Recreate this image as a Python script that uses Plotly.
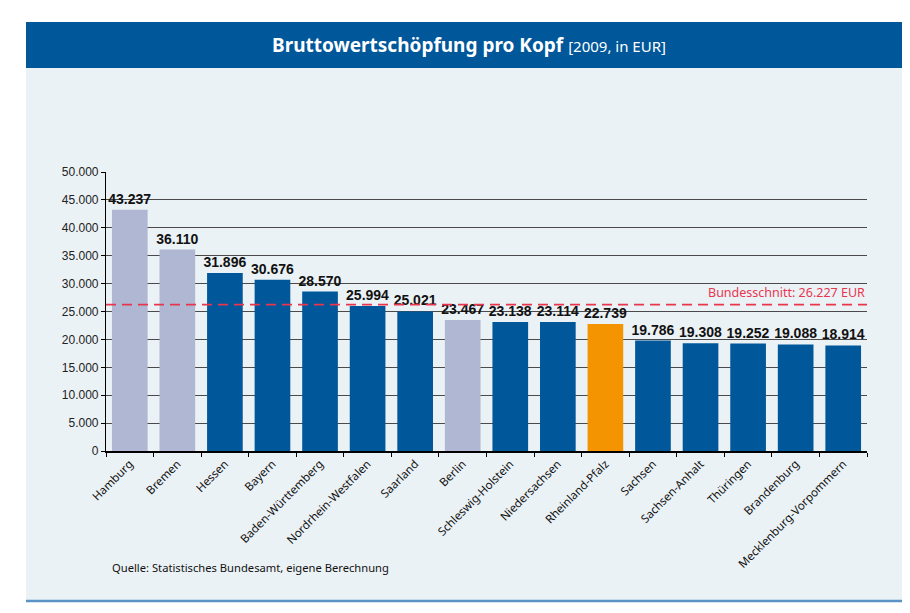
import plotly.graph_objects as go

categories = ["Hamburg", "Bremen", "Hessen", "Bayern", "Baden-Württemberg",
              "Nordrhein-Westfalen", "Saarland", "Berlin", "Schleswig-Holstein",
              "Niedersachsen", "Rheinland-Pfalz", "Sachsen", "Sachsen-Anhalt",
              "Thüringen", "Brandenburg", "Mecklenburg-Vorpommern"]
values = [43237, 36110, 31896, 30676, 28570, 25994, 25021, 23467, 23138,
          23114, 22739, 19786, 19308, 19252, 19088, 18914]
groups = ["stadt", "stadt", "land", "land", "land", "land", "land", "stadt", "land",
          "land", "rp", "land", "land", "land", "land", "land"]
bundesschnitt = 26227
y_ticks = [0, 5000, 10000, 15000, 20000, 25000, 30000, 35000, 40000, 45000, 50000]

color_map = {"stadt": "#AFB7D3", "land": "#00579A", "rp": "#F39400"}
bar_colors = [color_map[g] for g in groups]

OFF = 8  # page body margin offset
W, H = 910 - OFF, 613 - OFF
L, R, T, B = 106 - OFF, 867 - OFF, 172 - OFF, 451 - OFF  # plot area in figure pixels


def px(x):
    return (x - OFF - L) / (R - L)


def py(y):
    return (B - (y - OFF)) / (B - T)


def de(n):
    return f"{n:,}".replace(",", ".")


fig = go.Figure()
fig.add_trace(go.Bar(
    x=categories, y=values, marker=dict(color=bar_colors, line=dict(width=0)),
    text=[de(v) for v in values], textposition="outside", cliponaxis=False,
    constraintext="none",
    textfont=dict(family="Liberation Sans, Arial", size=14, color="#111111"),
    texttemplate="<b>%{text}</b>", hoverinfo="skip",
))

shapes = [
    # panel
    dict(type="rect", xref="paper", yref="paper", x0=px(26), x1=px(907), y0=py(601), y1=py(22),
         fillcolor="#EBF2F6", line=dict(width=0), layer="below"),
    # panel border right and bottom
    dict(type="line", xref="paper", yref="paper", x0=px(906.5), x1=px(906.5), y0=py(602), y1=py(22),
         line=dict(color="#5B93C4", width=2.5), layer="below"),
    dict(type="line", xref="paper", yref="paper", x0=px(26), x1=px(908), y0=py(601), y1=py(601),
         line=dict(color="#5B93C4", width=2.5), layer="below"),
    # header
    dict(type="rect", xref="paper", yref="paper", x0=px(26), x1=px(906), y0=py(68), y1=py(22),
         fillcolor="#00579A", line=dict(width=0), layer="below"),
    # average line
    dict(type="line", xref="paper", yref="y", x0=0, x1=1, y0=bundesschnitt, y1=bundesschnitt,
         line=dict(color="#E8364F", width=1.6, dash="10px,6px")),
]

annotations = [
    dict(xref="paper", yref="paper", x=px(469), y=py(45), showarrow=False,
         text="<b>Bruttowertschöpfung pro Kopf</b> <span style='font-size:15px'>[2009, in EUR]</span>",
         font=dict(family="Noto Sans", size=19, color="white"), xanchor="center", yanchor="middle"),
    dict(xref="paper", yref="y", x=1, y=bundesschnitt, yshift=2, showarrow=False,
         text=f"Bundesschnitt: {de(bundesschnitt)} EUR", xanchor="right", yanchor="bottom",
         font=dict(family="Noto Sans", size=12.5, color="#E8364F")),
    dict(xref="paper", yref="paper", x=px(110), y=py(567), showarrow=False,
         text="Quelle: Statistisches Bundesamt, eigene Berechnung", xanchor="left", yanchor="middle",
         font=dict(family="Noto Sans", size=11.2, color="#111111")),
]

fig.update_layout(
    width=W, height=H,
    margin=dict(l=L, r=W - R, t=T, b=H - B, pad=0),
    paper_bgcolor="white", plot_bgcolor="white",
    separators=",.",
    showlegend=False,
    bargap=0.25,
    shapes=shapes, annotations=annotations,
    xaxis=dict(tickangle=-45, tickson="boundaries", ticks="outside", ticklen=4,
               tickcolor="black", showline=True, linecolor="black", linewidth=1.5,
               tickfont=dict(family="Noto Sans", size=11.5, color="#111111"),
               showgrid=False, fixedrange=True),
    yaxis=dict(range=[0, 50000], tickvals=y_ticks, tickformat=",.0f",
               ticks="outside", ticklen=4, tickcolor="black",
               showline=True, linecolor="black", linewidth=1.2,
               gridcolor="#4A4A4A", gridwidth=1.3, zeroline=False,
               tickfont=dict(family="Liberation Sans, Arial", size=12, color="#222222"),
               fixedrange=True),
)

fig.write_html("out.html")
